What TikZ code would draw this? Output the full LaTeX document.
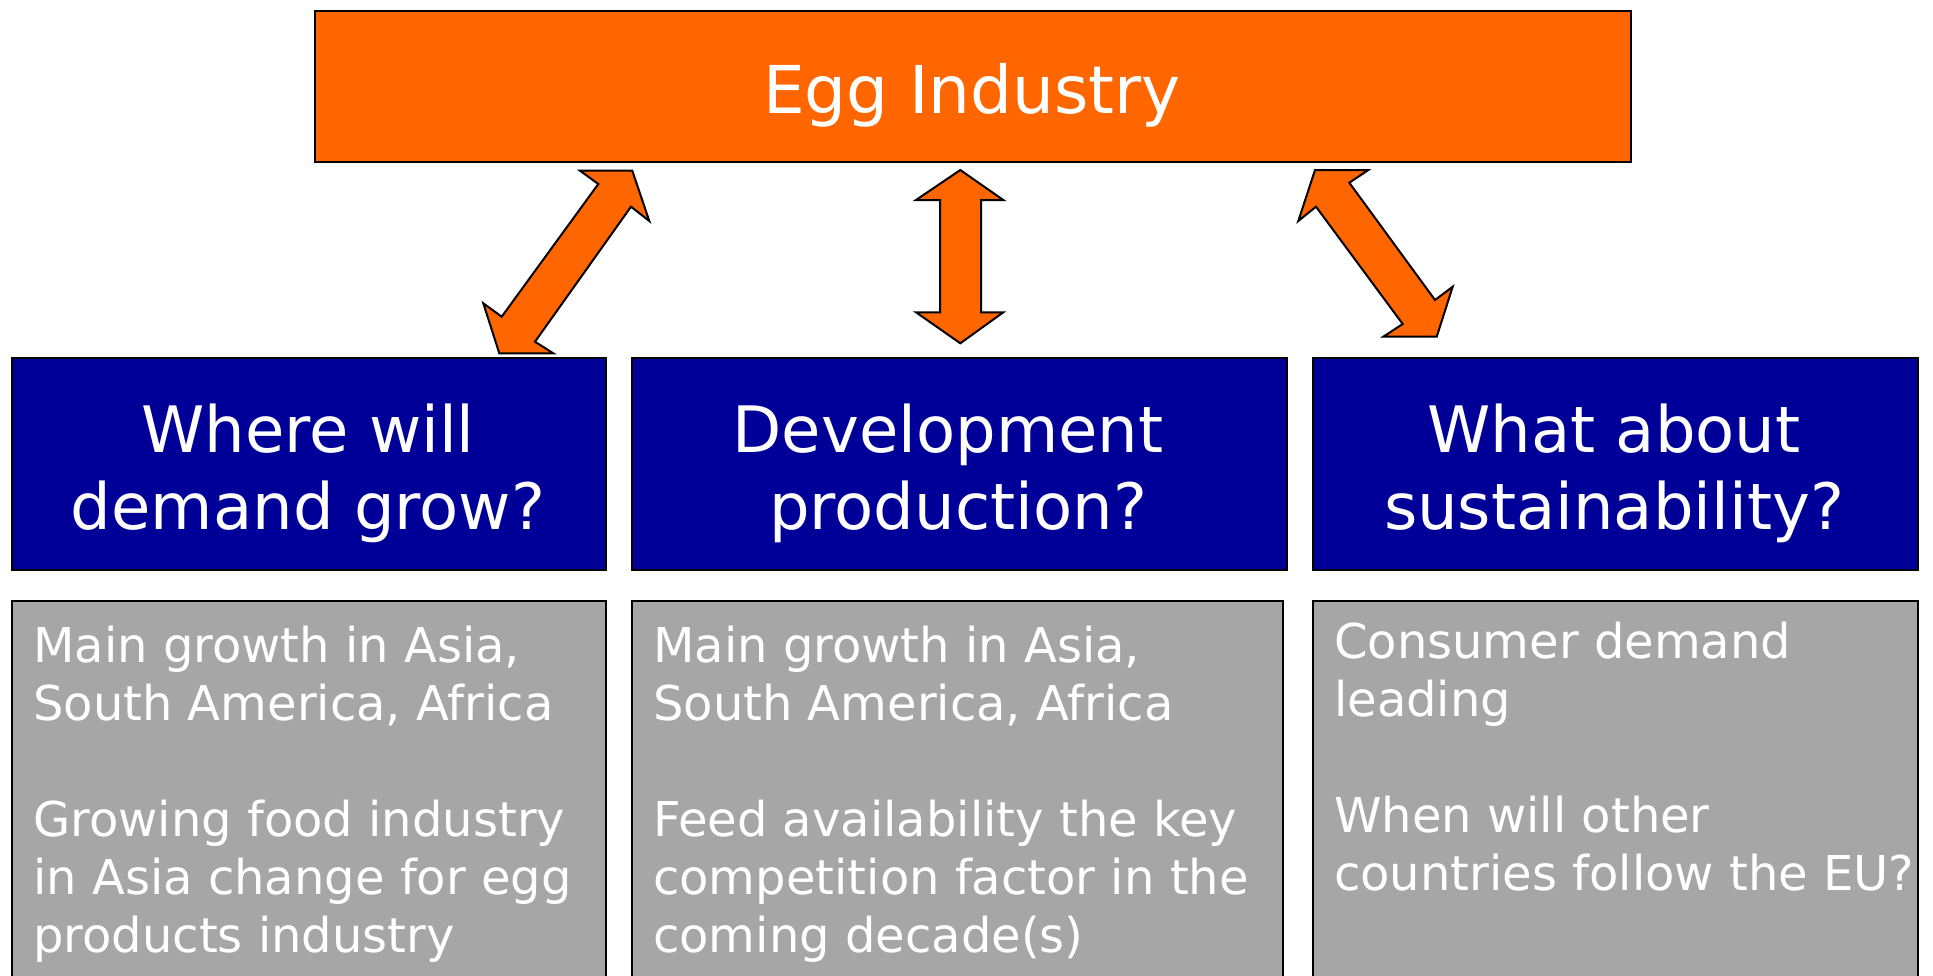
\documentclass[tikz,border=0pt]{standalone}
\usepackage{fontspec}
\setmainfont{DejaVu Sans}
\definecolor{eggorange}{HTML}{FF6600}
\definecolor{qblue}{HTML}{000099}
\definecolor{infogray}{HTML}{A6A6A6}
\tikzset{
  boxline/.style={draw=black, line width=2pt},
  topbox/.style={boxline, fill=eggorange, inner sep=0pt, anchor=north west},
  qbox/.style={boxline, fill=qblue, inner sep=0pt, anchor=north west, minimum height=212pt},
  infobox/.style={boxline, fill=infogray, inner sep=0pt, anchor=north west, minimum height=400pt},
  dblarrow/.style={boxline, fill=eggorange, line join=miter},
  titletext/.style={text=white, inner sep=0pt, anchor=base, font=\fontsize{66}{79}\selectfont},
  qtext/.style={text=white, inner sep=0pt, anchor=base, font=\fontsize{64}{77}\selectfont},
  itext/.style={text=white, inner sep=0pt, anchor=base west, font=\fontsize{48}{58}\selectfont},
}
\begin{document}
\begin{tikzpicture}[x=1pt, y=-1pt]
\useasboundingbox (0,0) rectangle (1933,975);
% top box
\node[topbox, minimum width=1316pt, minimum height=151pt] (top) at (314,10) {};
\node[titletext] (toptext) at (972,113) {Egg Industry};
% question boxes
\node[qbox, minimum width=594pt] (q1) at (11,357) {};
\node[qbox, minimum width=655pt] (q2) at (631,357) {};
\node[qbox, minimum width=605pt] (q3) at (1312,357) {};
\node[qtext] (q1t) at (308,452) {\begin{tabular}[t]{@{}c@{}}Where will\\demand grow?\end{tabular}};
\node[qtext] (q2t) at (958,452) {\begin{tabular}[t]{@{}c@{}}Development\kern20pt\\production?\end{tabular}};
\node[qtext] (q3t) at (1614,452) {\begin{tabular}[t]{@{}c@{}}What about\\sustainability?\end{tabular}};
% info boxes
\node[infobox, minimum width=594pt] (i1) at (11,600) {};
\node[infobox, minimum width=651pt] (i2) at (631,600) {};
\node[infobox, minimum width=605pt] (i3) at (1312,600) {};
\node[itext] (i1t) at (33,662) {\begin{tabular}[t]{@{}l@{}}Main growth in Asia,\\South America, Africa\\ \\Growing food industry\\in Asia change for egg\\products industry\end{tabular}};
\node[itext] (i2t) at (653,662) {\begin{tabular}[t]{@{}l@{}}Main growth in Asia,\\South America, Africa\\ \\Feed availability the key\\competition factor in the\\coming decade(s)\end{tabular}};
\node[itext] (i3t) at (1334,658) {\begin{tabular}[t]{@{}l@{}}Consumer demand\\leading\\ \\When will other\\countries follow the EU?\end{tabular}};
% double arrows
\draw[dblarrow] (632.3,170.7) -- (649.3,221) -- (631,206.7) -- (535,341.7) -- (553.3,353.3)
  -- (499.3,353.3) -- (483.3,303.3) -- (501.7,316.7) -- (598.3,184) -- (580,170.7) -- cycle;
\draw[dblarrow] (960.3,170) -- (1003.3,200) -- (981,200) -- (981,312.3) -- (1003.3,312.3)
  -- (960.3,343.3) -- (916,312.3) -- (940,312.3) -- (940,200) -- (916,200) -- cycle;
\draw[dblarrow] (1315,170) -- (1368.3,170) -- (1349.3,182.7) -- (1435,300) -- (1452.7,286.7)
  -- (1436.7,336.7) -- (1383.3,336.7) -- (1402.7,324) -- (1316,206.7) -- (1298.3,221) -- cycle;
\end{tikzpicture}
\end{document}
